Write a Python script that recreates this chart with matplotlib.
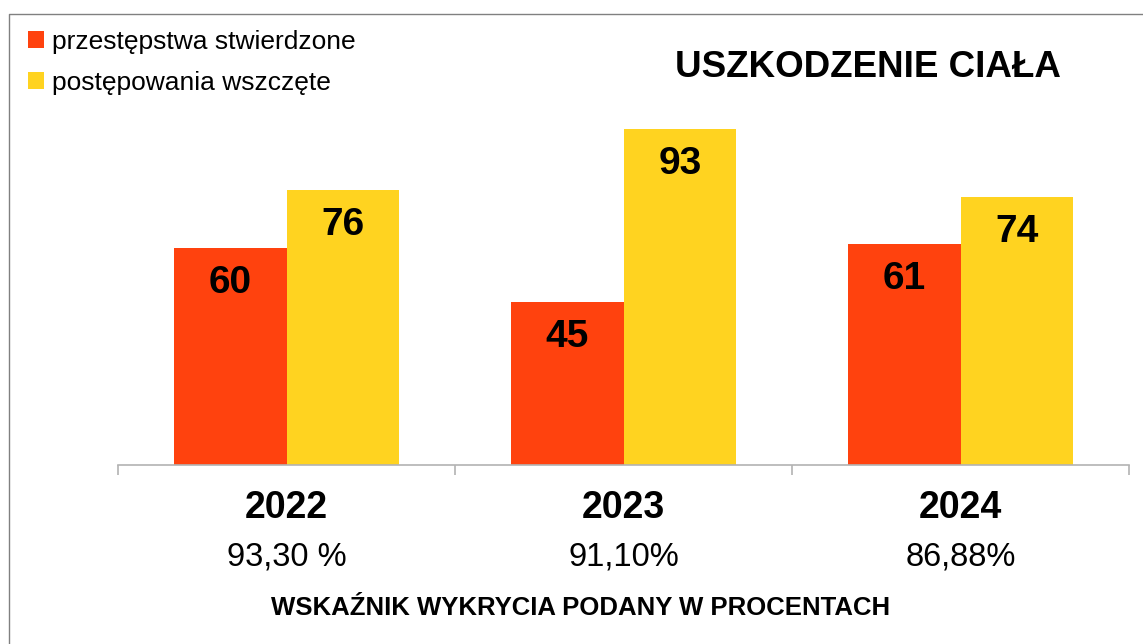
import matplotlib
matplotlib.use("Agg")
import matplotlib.pyplot as plt
from matplotlib import font_manager
from matplotlib.lines import Line2D

# --- data ---
years = ["2022", "2023", "2024"]
stwierdzone = [60, 45, 61]
wszczete = [76, 93, 74]
wskaznik = ["93,30 %", "91,10%", "86,88%"]
series_names = ["przestępstwa stwierdzone", "postępowania wszczęte"]
title = "USZKODZENIE CIAŁA"
footer = "WSKAŹNIK WYKRYCIA PODANY W PROCENTACH"

RED = "#FF420E"
YELLOW = "#FFD320"

W, H = 1143, 644
DPI = 100
PT = 72 / DPI  # points per pixel

installed = {f.name for f in font_manager.fontManager.ttflist}
base_font = "Liberation Sans" if "Liberation Sans" in installed else "DejaVu Sans"
narrow_font = "Liberation Sans Narrow" if "Liberation Sans Narrow" in installed else None
plt.rcParams["font.family"] = [base_font, "DejaVu Sans"]

fig = plt.figure(figsize=(W / DPI, H / DPI), dpi=DPI)

def fx(px):
    return px / W

def fy(py):
    return 1 - py / H

# plot area: baseline at y=465, categories from x=118 to x=1129
ax = fig.add_axes([fx(118), fy(465), fx(1129) - fx(118), 361.7 / H])
ax.set_xlim(-0.5, len(years) - 0.5)
ax.set_ylim(0, 100)

x = list(range(len(years)))
bw = 0.335
bars_a = ax.bar([i - bw / 2 for i in x], stwierdzone, bw, color=RED, label=series_names[0])
bars_b = ax.bar([i + bw / 2 for i in x], wszczete, bw, color=YELLOW, label=series_names[1])

for bars, vals in ((bars_a, stwierdzone), (bars_b, wszczete)):
    for b, v in zip(bars, vals):
        ax.annotate(str(v), (b.get_x() + b.get_width() / 2, v),
                    xytext=(0, -45 * PT), textcoords="offset points",
                    ha="center", va="baseline", fontsize=28, fontweight="bold")

for s in ("top", "left", "right"):
    ax.spines[s].set_visible(False)
ax.spines["bottom"].set_color("#b3b3b3")
ax.spines["bottom"].set_linewidth(1.2)
ax.set_yticks([])
ax.set_xticks([i - 0.5 for i in range(len(years) + 1)])
ax.set_xticklabels([])
ax.tick_params(axis="x", direction="out", length=10 * PT, width=1.2, color="#b3b3b3")

# year and detection-rate labels under each category
for i, (yr, pct) in enumerate(zip(years, wskaznik)):
    ax.annotate(yr, (i, 0), xytext=(0, -(518 - 465) * PT), textcoords="offset points",
                ha="center", va="baseline", fontsize=27, fontweight="bold",
                annotation_clip=False)
    ax.annotate(pct, (i, 0), xytext=(0, -(565 - 465) * PT), textcoords="offset points",
                ha="center", va="baseline", fontsize=23.5, annotation_clip=False)

fig.text(fx(675), fy(77), title, ha="left", va="baseline", fontsize=26.5, fontweight="bold")

if narrow_font:
    fig.text(fx(581), fy(616), footer, ha="center", va="baseline", fontsize=20,
             fontweight="bold", family=[narrow_font, "DejaVu Sans"])
else:
    fig.text(fx(581), fy(615), footer, ha="center", va="baseline", fontsize=18.5,
             fontweight="bold")

fig.legend(handles=[bars_a, bars_b], labels=series_names, loc="upper left",
           bbox_to_anchor=(fx(28), fy(30)), frameon=False, fontsize=19,
           handlelength=0.6, handleheight=0.6, handletextpad=0.3,
           labelspacing=0.65, borderaxespad=0, borderpad=0)

# outer frame (left and top edges are visible)
fig.add_artist(Line2D([fx(8.5), fx(8.5), 1], [0, fy(13.5), fy(13.5)],
                      transform=fig.transFigure, color="#808080", lw=1.0))

fig.savefig("out.png", dpi=DPI)
